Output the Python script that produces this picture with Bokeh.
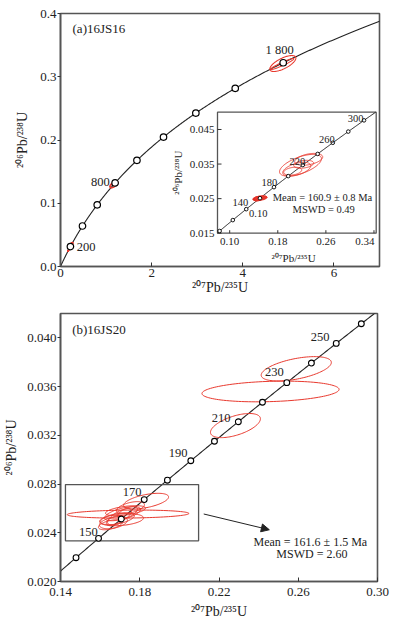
import numpy as np
from bokeh.plotting import figure
from bokeh.layouts import column
from bokeh.models import Range1d, FixedTicker, Arrow, NormalHead, PrintfTickFormatter
from bokeh.core.properties import value
from bokeh.embed import file_html
from bokeh.resources import INLINE

# U-Pb decay constants (1/Ma)
L235 = 9.8485e-4
L238 = 1.55125e-4

# ---------------- panel (a) data ----------------
a_title = "(a)16JS16"
a_xticks = [0, 2, 4, 6]
a_yticks = [0.0, 0.1, 0.2, 0.3, 0.4]
a_marker_ages = [200, 400, 600, 800, 1000, 1200, 1400, 1600, 1800]
a_label_text = ["200", "800", "1 800"]
a_label_age = [200, 800, 1800]
# error ellipses: 207Pb/235U, 206Pb/238U, sigma x, sigma y, rho
a_ell_x = [4.879, 4.868, 1.171, 1.165]
a_ell_y = [0.3209, 0.3202, 0.1296, 0.1290]
a_ell_sx = [0.286, 0.253, 0.092, 0.070]
a_ell_sy = [0.0126, 0.0087, 0.0053, 0.0045]
a_ell_rho = [0.69, 0.95, 0.60, 0.70]

# inset of (a)
in_marker_ages = [100, 120, 140, 160, 180, 200, 220, 240, 260, 280, 300]
in_label_text = ["140", "180", "220", "260", "300", "0.10"]
in_label_age = [140, 180, 220, 260, 300, 140]
in_xtick_labels = ["0.10", "0.18", "0.26", "0.34"]
in_xtick_values = [0.10, 0.18, 0.26, 0.34]
in_yticks = [0.015, 0.025, 0.035, 0.045]
in_fill_x = [0.1705, 0.1690, 0.1720, 0.1680, 0.1740, 0.1665]
in_fill_y = [0.0251, 0.0250, 0.0253, 0.0249, 0.0252, 0.0251]
in_fill_sx = [0.0120, 0.0090, 0.0100, 0.0070, 0.0080, 0.0060]
in_fill_sy = [0.0007, 0.0006, 0.0005, 0.0006, 0.0005, 0.0005]
in_fill_rho = [0.4, 0.5, 0.3, 0.5, 0.4, 0.3]
in_open_x = [0.2381, 0.2517, 0.2318, 0.2434, 0.2251]
in_open_y = [0.03466, 0.03637, 0.03351, 0.03494, 0.03294]
in_open_sx = [0.0349, 0.0233, 0.0233, 0.0166, 0.0150]
in_open_sy = [0.00314, 0.00171, 0.0020, 0.00114, 0.00114]
in_open_rho = [0.6, 0.4, 0.5, 0.3, 0.3]
in_mean_text = ["Mean = 160.9 \u00b1 0.8 Ma", "MSWD = 0.49"]
in_mean_x = [0.2745, 0.2767]
in_mean_y = [0.02529, 0.02194]

# ---------------- panel (b) data ----------------
b_title = "(b)16JS20"
b_xticks = [0.14, 0.18, 0.22, 0.26, 0.30]
b_yticks = [0.020, 0.024, 0.028, 0.032, 0.036, 0.040]
b_marker_ages = [140, 150, 160, 170, 180, 190, 200, 210, 220, 230, 240, 250, 260]
b_label_text = ["150", "170", "190", "210", "230", "250"]
b_label_age = [150, 170, 190, 210, 230, 250]
b_ell_x = [0.2283, 0.2460, 0.2590, 0.1741, 0.1832, 0.1687, 0.1713, 0.1667,
           0.1728, 0.1698, 0.1753, 0.1652, 0.1708, 0.1738, 0.1677]
b_ell_y = [0.0328, 0.0356, 0.03746, 0.025535, 0.02660, 0.025155, 0.025567, 0.024825,
           0.025814, 0.025320, 0.026062, 0.024660, 0.025072, 0.025649, 0.024990]
b_ell_sx = [0.0126, 0.0346, 0.0177, 0.0307, 0.01135, 0.00857, 0.00908, 0.00706,
            0.01009, 0.00605, 0.00706, 0.00605, 0.01109, 0.00504, 0.00454]
b_ell_sy = [0.00099, 0.00085, 0.0010, 0.00033, 0.00064, 0.000495, 0.000577, 0.000495,
            0.000412, 0.00066, 0.000495, 0.000412, 0.000495, 0.000495, 0.000412]
b_ell_rho = [0.56, 0.2, 0.52, 0.15, 0.53, 0.5, 0.6, 0.4, 0.5, 0.7, 0.5, 0.5, 0.3, 0.6, 0.5]
b_box_left, b_box_right, b_box_bottom, b_box_top = 0.1425, 0.2097, 0.02334, 0.02796
b_arrow_start = (0.2123, 0.025542)
b_arrow_end = (0.2454, 0.024247)
b_mean_text = ["Mean = 161.6 \u00b1 1.5 Ma", "MSWD = 2.60"]
b_mean_x = [0.2661, 0.2669]
b_mean_y = [0.02328, 0.02224]

XLAB = "\u00b2\u2070\u2077Pb/\u00b2\u00b3\u2075U"
YLAB = "\u00b2\u2070\u2076Pb/\u00b2\u00b3\u2078U"

# ---------------- helpers ----------------
FONT = "Liberation Serif"
RED = "#e8392e"
FRAME = "#555555"
INK = "#222222"


def conc(t):
    t = np.asarray(t, float)
    return np.expm1(L235 * t), np.expm1(L238 * t)


def ellipse_xy(cx, cy, sx, sy, rho, n=120):
    th = np.linspace(0, 2 * np.pi, n)
    x = cx + sx * np.cos(th)
    y = cy + sy * (rho * np.cos(th) + np.sqrt(1 - rho ** 2) * np.sin(th))
    return list(x), list(y)


def ellipses(xs, ys, sxs, sys_, rhos):
    ex, ey = [], []
    for a, b, c, d, r in zip(xs, ys, sxs, sys_, rhos):
        x, y = ellipse_xy(a, b, c, d, r)
        ex.append(x)
        ey.append(y)
    return ex, ey


def style_axes(p, x_std, x_lab_std, y_lab_std):
    p.xgrid.visible = False
    p.ygrid.visible = False
    p.outline_line_color = FRAME
    p.outline_line_width = 1.6
    for ax in p.axis:
        ax.axis_line_color = FRAME
        ax.axis_line_width = 1.6
        ax.major_tick_line_color = "#333333"
        ax.minor_tick_line_color = None
        ax.minor_tick_in = 0
        ax.minor_tick_out = 0
        ax.major_label_text_font = FONT
        ax.major_label_text_font_size = "13px"
        ax.major_label_text_color = INK
        ax.axis_label_text_font = FONT
        ax.axis_label_text_font_size = "14px"
        ax.axis_label_text_font_style = "normal"
        ax.axis_label_text_color = INK
    p.xaxis.major_tick_in = 4
    p.xaxis.major_tick_out = 0
    p.xaxis.major_label_standoff = x_std
    p.xaxis.axis_label_standoff = x_lab_std
    p.yaxis.major_tick_in = 0
    p.yaxis.major_tick_out = 3
    p.yaxis.major_label_standoff = 1
    p.yaxis.axis_label_standoff = y_lab_std


# ================= panel (a) =================
A_FW, A_FH = 319, 253
pa = figure(frame_width=A_FW, frame_height=A_FH, x_range=Range1d(0, 7), y_range=Range1d(0, 0.4),
            output_backend="svg", toolbar_location=None,
            min_border_left=60, min_border_right=19, min_border_top=13, min_border_bottom=36,
            background_fill_color="white", border_fill_color="white")
pa.xaxis.ticker = FixedTicker(ticks=a_xticks)
pa.yaxis.ticker = FixedTicker(ticks=a_yticks)
pa.xaxis.formatter = PrintfTickFormatter(format="%d")
pa.yaxis.formatter = PrintfTickFormatter(format="%.1f")
pa.xaxis.axis_label = XLAB
pa.yaxis.axis_label = YLAB
style_axes(pa, 2, 0, 7)

ca_x, ca_y = conc(np.linspace(0, 2200, 400))
pa.line(ca_x, ca_y, line_color=INK, line_width=1.1)
ex, ey = ellipses(a_ell_x, a_ell_y, a_ell_sx, a_ell_sy, a_ell_rho)
pa.patches(ex, ey, fill_color=None, line_color=RED, line_width=1.1)
# the inset's analyses also fall onto the main diagram (tiny there)
ex, ey = ellipses(in_fill_x + in_open_x, in_fill_y + in_open_y,
                  in_fill_sx + in_open_sx, in_fill_sy + in_open_sy, in_fill_rho + in_open_rho)
pa.patches(ex, ey, fill_color=RED, line_color=RED, line_width=1.2)
mx, my = conc(a_marker_ages)
pa.scatter(mx, my, marker="circle", size=6.5, fill_color="white", line_color="black", line_width=1.2)
lx, ly = conc(a_label_age)
a_label_dx = [15.6, -14.8, -3.6]
a_label_dy = [0, -0.7, -12.4]
pa.text(lx, ly, text=a_label_text, x_offset=a_label_dx, y_offset=a_label_dy,
        text_align="center", text_baseline="middle", text_font=value(FONT),
        text_font_size="12.5px", text_color=INK)
pa.text([0.264], [0.376], text=[a_title], text_align="left", text_baseline="middle",
        text_font=value(FONT), text_font_size="13px", text_color=INK)

# ---- inset (a): extra ranges mapped into a box of the frame ----
box_l, box_r, box_t, box_b = 157, 315.7, 98.7, 219.7  # px inside the frame
ix0, ix1 = 0.100, 0.364
iy0, iy1 = 0.015, 0.050
kx = (ix1 - ix0) / (box_r - box_l)   # data units per pixel
ky = (iy1 - iy0) / (box_b - box_t)
pa.extra_x_ranges = {"ix": Range1d(ix0 - box_l * kx, ix1 + (A_FW - box_r) * kx)}
pa.extra_y_ranges = {"iy": Range1d(iy0 - (A_FH - box_b) * ky, iy1 + box_t * ky)}
R = dict(x_range_name="ix", y_range_name="iy")

pa.quad(left=[ix0], right=[ix1], bottom=[iy0], top=[iy1], fill_color="white",
        line_color=FRAME, line_width=1.3, **R)
t0 = max(np.log1p(ix0) / L235, np.log1p(iy0) / L238)
t1 = min(np.log1p(ix1) / L235, np.log1p(iy1) / L238)
ci_x, ci_y = conc(np.linspace(t0, t1, 200))
pa.line(ci_x, ci_y, line_color=INK, line_width=1.0, **R)
ex, ey = ellipses(in_open_x, in_open_y, in_open_sx, in_open_sy, in_open_rho)
pa.patches(ex, ey, fill_color=None, line_color=RED, line_width=0.9, **R)
ex, ey = ellipses(in_fill_x, in_fill_y, in_fill_sx, in_fill_sy, in_fill_rho)
pa.patches(ex, ey, fill_color=RED, fill_alpha=0.9, line_color=RED, line_width=0.8, **R)
mx, my = conc(in_marker_ages)
pa.scatter(mx, my, marker="circle", size=3.6, fill_color="white", line_color="black",
           line_width=0.9, **R)
lx, ly = conc(in_label_age)
in_label_dx = [-5.9, -4.5, -5.4, -5.9, -8.5, 12.0]
in_label_dy = [-6.7, -4.6, -3.6, -3.7, -2.0, 4.3]
pa.text(lx, ly, text=in_label_text, x_offset=in_label_dx, y_offset=in_label_dy,
        text_align="center", text_baseline="middle", text_font=value(FONT),
        text_font_size="10.5px", text_color=INK, **R)
pa.text(in_mean_x, in_mean_y, text=in_mean_text, text_align="center", text_baseline="middle",
        text_font=value(FONT), text_font_size="10.5px", text_color=INK, **R)

# inset axes drawn on the inset scales
label_shift = 0.0203  # the original inset's tick labels sit this far right of the curve's scale
tick_pos = [v + label_shift for v in in_xtick_values]
tick_label_dx = [0, 0, 0, -9]
nx, ny = len(tick_pos), len(in_yticks)
pa.segment(x0=tick_pos, y0=[iy0] * nx, x1=tick_pos, y1=[iy0 + 3 * ky] * nx,
           line_color="#333333", line_width=1.0, **R)
pa.text(tick_pos, [iy0 - 8 * ky] * nx, text=in_xtick_labels, x_offset=tick_label_dx,
        text_align="center", text_baseline="middle", text_font=value(FONT),
        text_font_size="11px", text_color=INK, **R)
pa.segment(x0=[ix0] * ny, y0=in_yticks, x1=[ix0 + 4 * kx] * ny, y1=in_yticks,
           line_color="#333333", line_width=1.0, **R)
pa.text([ix0 - 3 * kx] * ny, in_yticks, text=["%.3f" % v for v in in_yticks],
        text_align="right", text_baseline="middle", text_font=value(FONT),
        text_font_size="11px", text_color=INK, **R)
pa.text([ix0 + 76 * kx], [iy0 - 24.6 * ky], text=[XLAB], text_align="center",
        text_baseline="middle", text_font=value(FONT), text_font_size="11px",
        text_color=INK, **R)
pa.text([ix0 - 40 * kx], [(iy0 + iy1) / 2], text=[YLAB], angle=np.pi / 2,
        text_align="center", text_baseline="middle", text_font=value(FONT),
        text_font_size="11px", text_color=INK, **R)

# ================= panel (b) =================
pb = figure(frame_width=317, frame_height=268, x_range=Range1d(0.14, 0.30),
            y_range=Range1d(0.020, 0.042),
            output_backend="svg", toolbar_location=None,
            min_border_left=60, min_border_right=21, min_border_top=11, min_border_bottom=44,
            background_fill_color="white", border_fill_color="white")
pb.xaxis.ticker = FixedTicker(ticks=b_xticks)
pb.yaxis.ticker = FixedTicker(ticks=b_yticks)
pb.xaxis.formatter = PrintfTickFormatter(format="%.2f")
pb.yaxis.formatter = PrintfTickFormatter(format="%.3f")
pb.xaxis.axis_label = XLAB
pb.yaxis.axis_label = YLAB
style_axes(pb, 6, 5, 5)

cb_x, cb_y = conc(np.linspace(120, 280, 300))
pb.line(cb_x, cb_y, line_color=INK, line_width=1.1)
ex, ey = ellipses(b_ell_x, b_ell_y, b_ell_sx, b_ell_sy, b_ell_rho)
pb.patches(ex, ey, fill_color=None, line_color=RED, line_width=1.0)
pb.quad(left=[b_box_left], right=[b_box_right], bottom=[b_box_bottom], top=[b_box_top],
        fill_color=None, line_color=FRAME, line_width=1.3)
mx, my = conc(b_marker_ages)
pb.scatter(mx, my, marker="circle", size=5.8, fill_color="white", line_color="black", line_width=1.1)
lx, ly = conc(b_label_age)
b_label_dx = [-10.1, -12.1, -12.7, -17.3, -12.5, -16.0]
b_label_dy = [-6.5, -7.3, -7.6, -4.2, -10.6, -6.2]
pb.text(lx, ly, text=b_label_text, x_offset=b_label_dx, y_offset=b_label_dy,
        text_align="center", text_baseline="middle", text_font=value(FONT),
        text_font_size="12.5px", text_color=INK)
pb.text([0.1459], [0.04066], text=[b_title], text_align="left", text_baseline="middle",
        text_font=value(FONT), text_font_size="13px", text_color=INK)
pb.text(b_mean_x, b_mean_y, text=b_mean_text, text_align="center", text_baseline="middle",
        text_font=value(FONT), text_font_size="12px", text_color=INK)
pb.add_layout(Arrow(end=NormalHead(size=8, fill_color=INK, line_color=INK),
                    x_start=b_arrow_start[0], y_start=b_arrow_start[1],
                    x_end=b_arrow_end[0], y_end=b_arrow_end[1],
                    line_color=INK, line_width=1.0))

layout = column(pa, pb)
open("out.html", "w").write(file_html(layout, INLINE))
